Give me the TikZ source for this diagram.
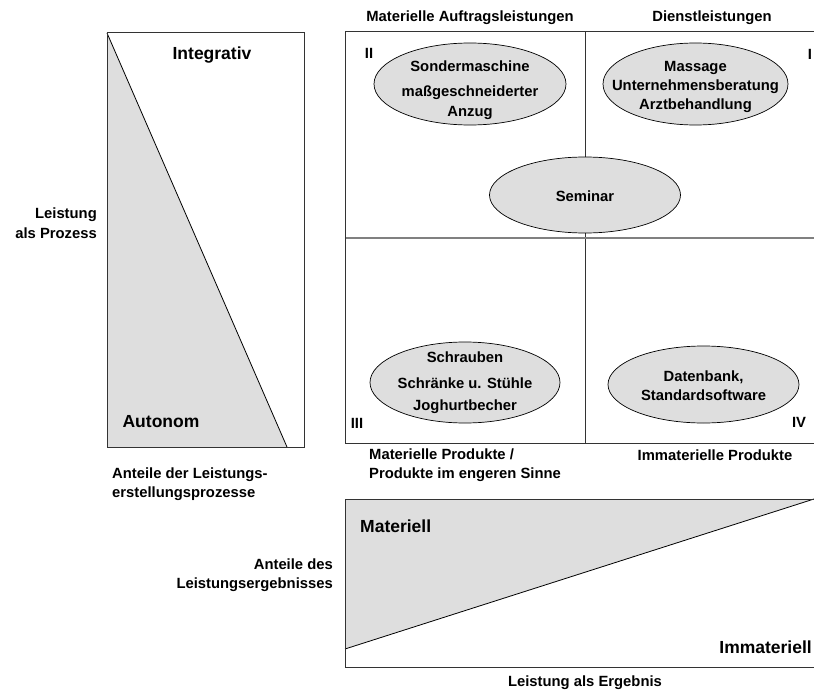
\documentclass[tikz,border=0pt]{standalone}
\usepackage{fontspec}
\setmainfont{Liberation Sans}
\usetikzlibrary{shapes.geometric}
\definecolor{fillgray}{HTML}{DEDEDE}
\definecolor{linegray}{HTML}{333333}
\tikzset{
  txt/.style={font=\bfseries\fontsize{14.8}{19.5}\selectfont, inner sep=0pt},
  big/.style={font=\bfseries\fontsize{17.5}{21}\selectfont, inner sep=0pt},
  oval/.style={ellipse, draw=black, fill=fillgray, line width=0.7pt, inner sep=0pt},
  frame/.style={draw=linegray, line width=1pt},
  divider/.style={draw=linegray, line width=0.9pt},
  hdivider/.style={draw=gray, line width=1.3pt},
  slope/.style={draw=black, line width=0.8pt},
}
\begin{document}
\begin{tikzpicture}[x=1pt,y=-1pt]
\useasboundingbox (0,0) rectangle (814,690);
\clip (0,0) rectangle (814,690);
% ---------- left box (process) ----------
\coordinate (LTL) at (107,33);
\coordinate (LBR) at (304,447);
\coordinate (LBL) at (107,447);
\coordinate (LD) at (287,447);
\fill[fillgray] (LTL) -- (LD) -- (LBL) -- cycle;
\draw[slope] (LTL) -- (LD);
\draw[frame] (LTL) rectangle (LBR);
\node[big] (integ) at (212,55) {Integrativ};
\node[big] (auton) at (161,422) {Autonom};
\node[txt, align=right, anchor=east] (proz) at (97,223) {Leistung\\als Prozess};
\node[txt, align=left, anchor=west] (anteil1) at (112,484) {Anteile der Leistungs-\\erstellungsprozesse};
% ---------- quadrant box ----------
\coordinate (QTL) at (345,32);
\coordinate (QBR) at (830,443);
\coordinate (QVT) at (585,32);
\coordinate (QVB) at (585,443);
\coordinate (QHL) at (345,238);
\coordinate (QHR) at (830,238);
\draw[divider] (QVT) -- (QVB);
\draw[hdivider] (QHL) -- (QHR);
\draw[frame] (QTL) rectangle (QBR);
\node[txt] (matauf) at (470,18) {Materielle Auftragsleistungen};
\node[txt] (dienst) at (712,18) {Dienstleistungen};
\node[txt] (q2) at (369,53) {II};
\node[txt] (q1) at (810,54) {I};
\node[txt] (q3) at (357,423) {III};
\node[txt] (q4) at (799,422) {IV};
% ellipses
\node[oval, minimum width=192, minimum height=82] (e2) at (470,84) {};
\node[txt] at (470,66) {Sondermaschine};
\node[txt] at (470,93) {maßgeschneiderter};
\node[txt] at (470,113) {Anzug};
\node[oval, minimum width=185, minimum height=82] (e1) at (695.5,84) {};
\node[txt] at (695.5,68) {Massage};
\node[txt] at (695.5,87) {Unternehmensberatung};
\node[txt] at (695.5,106) {Arztbehandlung};
\node[oval, minimum width=191, minimum height=76] (es) at (585,195) {};
\node[txt] at (585,196) {Seminar};
\node[oval, minimum width=190, minimum height=81] (e3) at (465,382.5) {};
\node[txt] at (465,357) {Schrauben};
\node[txt] at (465,383) {Schränke u. Stühle};
\node[txt] at (465,407) {Joghurtbecher};
\node[oval, minimum width=191, minimum height=77] (e4) at (703.5,384.5) {};
\node[txt] at (703.5,377) {Datenbank,};
\node[txt] at (703.5,395) {Standardsoftware};
\node[txt, align=left, anchor=west] (matprod) at (369,465) {Materielle Produkte /\\Produkte im engeren Sinne};
\node[txt] (immprod) at (715,455) {Immaterielle Produkte};
% ---------- bottom box (result) ----------
\coordinate (BTL) at (345,499);
\coordinate (BBR) at (830,667);
\coordinate (BTR) at (814,499);
\coordinate (BD) at (345,649);
\fill[fillgray] (BTL) -- (BTR) -- (BD) -- cycle;
\draw[slope] (BD) -- (BTR);
\draw[frame] (BTL) rectangle (BBR);
\node[big, anchor=west] (mat) at (360,526) {Materiell};
\node[big, anchor=east] (immat) at (812,647) {Immateriell};
\node[txt, align=right, anchor=east] (anteil2) at (333,575) {Anteile des\\Leistungsergebnisses};
\node[txt] (ergeb) at (585,683) {Leistung als Ergebnis};
\end{tikzpicture}
\end{document}
